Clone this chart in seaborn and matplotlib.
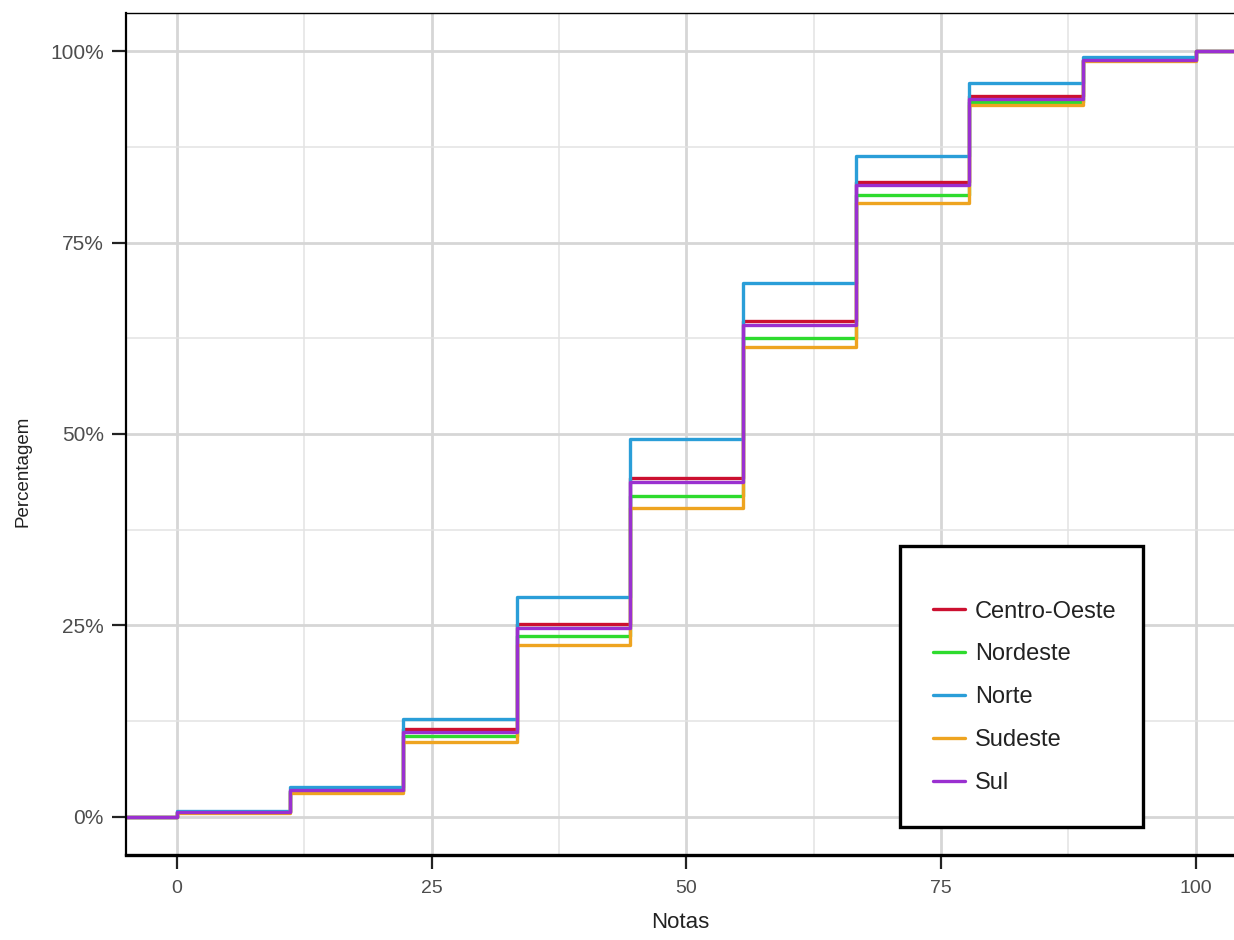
import numpy as np
import pandas as pd
import matplotlib
matplotlib.use("Agg")
import matplotlib.pyplot as plt
from matplotlib.ticker import MultipleLocator, FuncFormatter, FixedLocator
import seaborn as sns

# ---- data ----
notas = [0, 100/9, 200/9, 300/9, 400/9, 500/9, 600/9, 700/9, 800/9, 100]
regioes = ["Centro-Oeste", "Nordeste", "Norte", "Sudeste", "Sul"]
centro_oeste = [0.6, 3.4, 11.4, 25.2, 44.2, 64.7, 82.9, 94.2, 98.9, 100]
nordeste     = [0.6, 3.3, 10.5, 23.6, 41.9, 62.5, 81.2, 93.4, 98.8, 100]
norte        = [0.7, 3.9, 12.8, 28.7, 49.4, 69.7, 86.3, 95.8, 99.3, 100]
sudeste      = [0.5, 3.1,  9.7, 22.4, 40.3, 61.4, 80.2, 93.0, 98.7, 100]
sul          = [0.6, 3.5, 11.1, 24.7, 43.7, 64.2, 82.5, 93.8, 98.8, 100]
cores = ["#CC1030", "#2EDB2E", "#2A9ED8", "#EEA420", "#9A30D0"]

xticks = [0, 25, 50, 75, 100]
yticks = [0, 0.25, 0.5, 0.75, 1.0]
xlim = (-5, 103.75)
ylim = (-0.05, 1.05)

series = dict(zip(regioes, [centro_oeste, nordeste, norte, sudeste, sul]))
rows = []
for reg, vals in series.items():
    # ECDF padded to the panel edges (like stat_ecdf pad=TRUE)
    rows.append((xlim[0] - 1, 0.0, reg))
    for x, v in zip(notas, vals):
        rows.append((x, v / 100.0, reg))
    rows.append((xlim[1] + 1, 1.0, reg))
df = pd.DataFrame(rows, columns=["Notas", "Percentagem", "Regiao"])

sns.set_theme(style="white")
plt.rcParams["font.family"] = ["Liberation Sans", "DejaVu Sans"]

fig = plt.figure(figsize=(12.34, 9.40), dpi=100)
ax = fig.add_axes([126/1234, 1 - 855/940, 1 - 126/1234, (855 - 13)/940])

sns.lineplot(data=df, x="Notas", y="Percentagem", hue="Regiao",
             hue_order=regioes, palette=cores, drawstyle="steps-post",
             linewidth=2.4, ax=ax, estimator=None, sort=False, legend=True)

ax.set_xlim(*xlim)
ax.set_ylim(*ylim)
ax.xaxis.set_major_locator(FixedLocator(xticks))
ax.yaxis.set_major_locator(FixedLocator(yticks))
ax.xaxis.set_minor_locator(MultipleLocator(12.5))
ax.yaxis.set_minor_locator(MultipleLocator(0.125))
ax.yaxis.set_major_formatter(FuncFormatter(lambda v, p: f"{v*100:.0f}%"))

ax.grid(which="major", color="#D6D6D6", linewidth=2.0)
ax.grid(which="minor", color="#E3E3E3", linewidth=1.1)
ax.set_axisbelow(True)

ax.tick_params(which="major", direction="out", length=10, width=1.6,
               color="#222222", labelcolor="#4D4D4D", left=True, bottom=True)
ax.tick_params(axis="y", which="major", labelsize=15, pad=6)
ax.tick_params(axis="x", which="major", labelsize=14, pad=8)
ax.tick_params(which="minor", length=0)

for s in ["left", "bottom", "top"]:
    ax.spines[s].set_color("black")
ax.spines["left"].set_linewidth(1.6)
ax.spines["bottom"].set_linewidth(2.4)
ax.spines["top"].set_linewidth(1.0)
ax.spines["right"].set_visible(False)

ax.set_xlabel("Notas", fontsize=16, color="#222222", labelpad=11)
ax.set_ylabel("Percentagem", fontsize=13.5, color="#222222")
ax.yaxis.set_label_coords(-0.085, 0.456)

leg = ax.legend(loc="lower left", bbox_to_anchor=(0.6986, 0.033, 0.219, 0.335),
                mode="expand", borderaxespad=0, fontsize=17, title=" ",
                title_fontsize=1, frameon=True, fancybox=False,
                handlelength=1.36, handletextpad=0.42, labelspacing=0.885,
                borderpad=1.4)
fr = leg.get_frame()
fr.set_edgecolor("black")
fr.set_linewidth(2.4)
fr.set_facecolor("white")
fr.set_alpha(1)
for line in leg.get_lines():
    line.set_linewidth(2.4)
for t in leg.get_texts():
    t.set_color("#222222")

fig.savefig("out.png", dpi=100)
